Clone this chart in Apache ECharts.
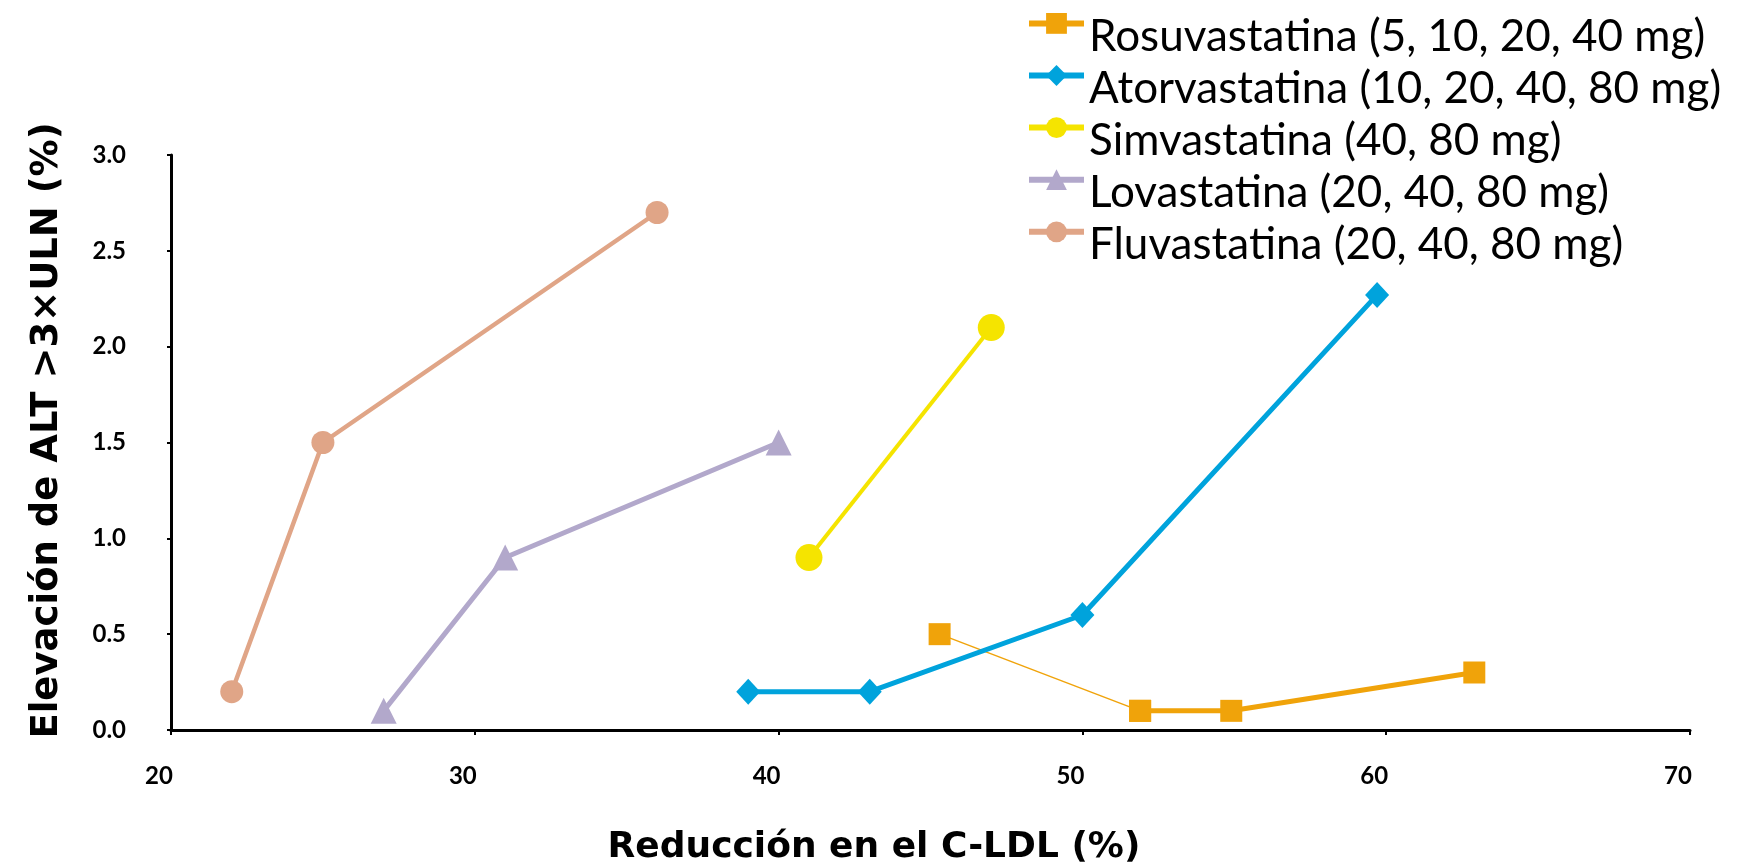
<!DOCTYPE html>
<html><head><meta charset="utf-8">
<script src="https://cdn.jsdelivr.net/npm/echarts@6/dist/echarts.min.js"></script>
<style>html,body{margin:0;padding:0;background:#fff}#c{width:1739px;height:864px}</style>
</head><body><div id="c"></div>
<script>
const seriesNames = ['Rosuvastatina (5, 10, 20, 40 mg)','Atorvastatina (10, 20, 40, 80 mg)','Simvastatina (40, 80 mg)','Lovastatina (20, 40, 80 mg)','Fluvastatina (20, 40, 80 mg)'];
const rosuX = [45.3, 51.9, 54.9, 62.9];
const rosuY = [0.5, 0.1, 0.1, 0.3];
const atorX = [39, 43, 50, 59.7];
const atorY = [0.2, 0.2, 0.6, 2.27];
const simvX = [41, 47];
const simvY = [0.9, 2.1];
const lovaX = [27, 31, 40];
const lovaY = [0.1, 0.9, 1.5];
const fluvX = [22, 25, 36];
const fluvY = [0.2, 1.5, 2.7];
const xTicks = [20, 30, 40, 50, 60, 70];
const yTicks = [0, 0.5, 1, 1.5, 2, 2.5, 3];
const xTitle = 'Reducción en el C-LDL (%)';
const yTitle = 'Elevación de ALT >3×ULN (%)';

const zip = (xs, ys) => xs.map((x, i) => [x, ys[i]]);
const colors = ['#F0A30A', '#00A3DC', '#F5E400', '#B2A8CB', '#E0A587'];
const chart = echarts.init(document.getElementById('c'));
const F = 'Lato, "Open Sans", sans-serif';
const FT = '"DejaVu Sans", sans-serif';
chart.setOption({
  backgroundColor: '#fff',
  animation: false,
  grid: { left: 171, right: 49, top: 155, bottom: 134, containLabel: false, outerBoundsMode: 'none' },
  legend: {
    orient: 'vertical', left: 1021, top: 8, itemWidth: 55, itemHeight: 26, itemGap: 6.7,
    data: seriesNames,
    lineStyle: { width: 6 },
    formatter: n => '{a|' + n + '}',
    textStyle: { fontFamily: F, fontSize: 44, color: '#000',
      rich: { a: { fontFamily: F, fontSize: 44, color: '#000', padding: [26, 0, 0, 0] } } }
  },
  xAxis: {
    type: 'value', min: xTicks[0], max: xTicks[xTicks.length - 1], interval: 10,
    name: xTitle, nameLocation: 'middle', nameGap: 100,
    nameTextStyle: { fontFamily: FT, fontSize: 36, fontWeight: 'bold', color: '#000', padding: [0, 113, 0, 0] },
    axisLine: { onZero: false, lineStyle: { color: '#000', width: 3 } },
    axisTick: { show: true, length: 5, lineStyle: { color: '#000', width: 2 } },
    axisLabel: { margin: 34, fontFamily: F, fontSize: 24, fontWeight: 'bold', color: '#000', padding: [0, 24, 0, 0] },
    splitLine: { show: false }
  },
  yAxis: {
    type: 'value', min: yTicks[0], max: yTicks[yTicks.length - 1], interval: 0.5,
    name: yTitle, nameLocation: 'middle', nameGap: 105,
    nameTextStyle: { fontFamily: FT, fontSize: 37, fontWeight: 'bold', color: '#000', padding: [0, 0, 0, 24] },
    axisLine: { show: true, lineStyle: { color: '#000', width: 3 } },
    axisTick: { show: true, length: 4, lineStyle: { color: '#000', width: 2 } },
    axisLabel: { margin: 45, fontFamily: F, fontSize: 24, fontWeight: 'bold', color: '#000', formatter: v => v.toFixed(1) },
    splitLine: { show: false }
  },
  series: [
    { name: seriesNames[0], type: 'line', data: zip(rosuX, rosuY).slice(1), color: colors[0],
      symbol: 'rect', symbolSize: 22, lineStyle: { width: 5 }, z: 3 },
    { name: seriesNames[0], type: 'line', data: zip(rosuX, rosuY).slice(0, 2), color: colors[0],
      symbol: 'rect', symbolSize: 22, lineStyle: { width: 1.5 }, z: 3 },
    { name: seriesNames[1], type: 'line', data: zip(atorX, atorY), color: colors[1],
      symbol: 'diamond', symbolSize: [24, 26], lineStyle: { width: 5 } },
    { name: seriesNames[2], type: 'line', data: zip(simvX, simvY), color: colors[2],
      symbol: 'circle', symbolSize: 27, lineStyle: { width: 4 } },
    { name: seriesNames[3], type: 'line', data: zip(lovaX, lovaY), color: colors[3],
      symbol: 'triangle', symbolSize: 26, lineStyle: { width: 5 } },
    { name: seriesNames[4], type: 'line', data: zip(fluvX, fluvY), color: colors[4],
      symbol: 'circle', symbolSize: 23, lineStyle: { width: 4.5 } }
  ]
});
</script></body></html>
